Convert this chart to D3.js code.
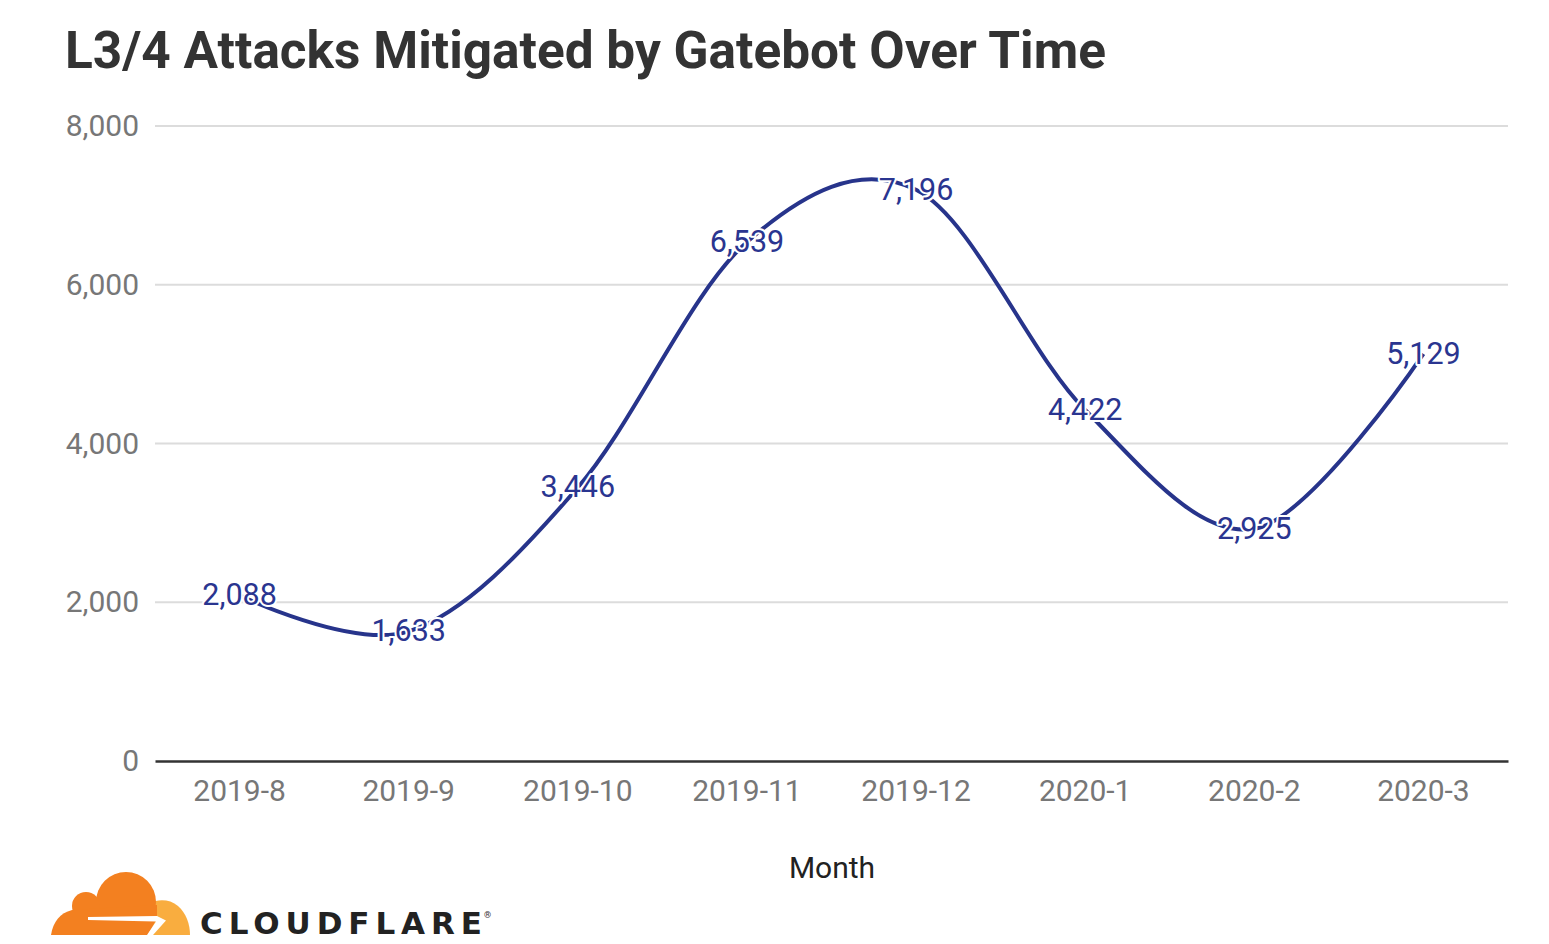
<!DOCTYPE html>
<html><head><meta charset="utf-8">
<script src="https://cdn.jsdelivr.net/npm/d3@7"></script>
<style>html,body{margin:0;padding:0;background:#fff;overflow:hidden}</style>
</head><body>
<svg id="chart" width="1549" height="944"></svg>
<script>
const months = ["2019-8","2019-9","2019-10","2019-11","2019-12","2020-1","2020-2","2020-3"];
const attacks = [2088,1633,3446,6539,7196,4422,2925,5129];
const yTicks = [0,2000,4000,6000,8000];
const titleText = "L3/4 Attacks Mitigated by Gatebot Over Time";
const xTitle = "Month";

const svg = d3.select("#chart");
const m = {left:155, right:1508, top:126, bottom:761};
const x = d3.scaleBand().domain(months).range([m.left, m.right]);
const cx = d => x(d) + x.bandwidth()/2;
const y = d3.scaleLinear().domain([0,8000]).range([m.bottom, m.top]);
const fmt = d3.format(",");
const FONT = "Roboto, 'Noto Sans', sans-serif";

// Title
const t = svg.append("text").attr("x",65).attr("y",68)
  .attr("font-family",FONT).attr("font-weight",700).attr("font-size",44)
  .attr("fill","#333").text(titleText);
const tw = t.node().getComputedTextLength();
t.attr("font-size", 44*1041/tw);

// gridlines
svg.append("g").selectAll("line").data(yTicks.filter(d=>d>0)).join("line")
  .attr("x1",m.left).attr("x2",m.right).attr("y1",d=>y(d)).attr("y2",d=>y(d))
  .attr("stroke","#dcdcdc").attr("stroke-width",2);

// y axis labels
const yAxis = d3.axisLeft(y).tickValues(yTicks).tickFormat(fmt).tickSize(0).tickPadding(16);
const ya = svg.append("g").attr("transform",`translate(${m.left},0)`).call(yAxis);
ya.select(".domain").remove();
ya.selectAll("text").attr("font-family",FONT).attr("font-size",30).attr("fill","#777");

// x axis
const xAxis = d3.axisBottom(x).tickSize(0).tickPadding(19);
const xa = svg.append("g").attr("transform",`translate(0,${m.bottom})`).call(xAxis);
xa.select(".domain").attr("stroke","#333").attr("stroke-width",2.5);
xa.selectAll("text").attr("font-family",FONT).attr("font-size",30).attr("fill","#777");

// x title
svg.append("text").attr("x",832).attr("y",878).attr("text-anchor","middle")
  .attr("font-family",FONT).attr("font-size",30).attr("fill","#222").text(xTitle);

// line
const line = d3.line().x((d,i)=>cx(months[i])).y(d=>y(d)).curve(d3.curveCardinal.tension(0));
svg.append("path").datum(attacks).attr("d",line)
  .attr("fill","none").attr("stroke","#27348b").attr("stroke-width",4);

// labels
svg.append("g").selectAll("text").data(attacks).join("text")
  .attr("x",(d,i)=>cx(months[i])).attr("y",d=>y(d)+10)
  .attr("text-anchor","middle").attr("font-family",FONT).attr("font-size",30.5)
  .attr("fill","#2a3590").attr("stroke","#fff").attr("stroke-width",4)
  .attr("stroke-linejoin","round")
  .attr("paint-order","stroke").text(d=>fmt(d));

// Cloudflare logo
const logo = svg.append("g");
const orange = "#f38020";
logo.append("path").attr("d","M150,935 L150,903 C158,899 170,899 178,906 C186,913 190,924 190,935 Z")
  .attr("fill","#f9ad3f");
logo.append("circle").attr("cx",126).attr("cy",902).attr("r",30).attr("fill",orange);
logo.append("circle").attr("cx",86).attr("cy",906).attr("r",14).attr("fill",orange);
logo.append("path").attr("d","M51,935 C53,922 60,913 72,910 L157,905 L157,918 L148,935 Z").attr("fill",orange);
logo.append("path").attr("d","M88,917 L157,916 L166,920.5 L153,935 L147,935 L156,921.5 L88,920 Z").attr("fill","#fff");
logo.append("text").attr("x",200).attr("y",934).attr("font-family","'DejaVu Sans', sans-serif")
  .attr("font-weight",700).attr("font-size",31).attr("fill","#222")
  .attr("textLength",282).attr("lengthAdjust","spacing").text("CLOUDFLARE");
logo.append("text").attr("x",484).attr("y",918).attr("font-family",FONT)
  .attr("font-size",9).attr("fill","#333").text("®");
</script>
</body></html>
